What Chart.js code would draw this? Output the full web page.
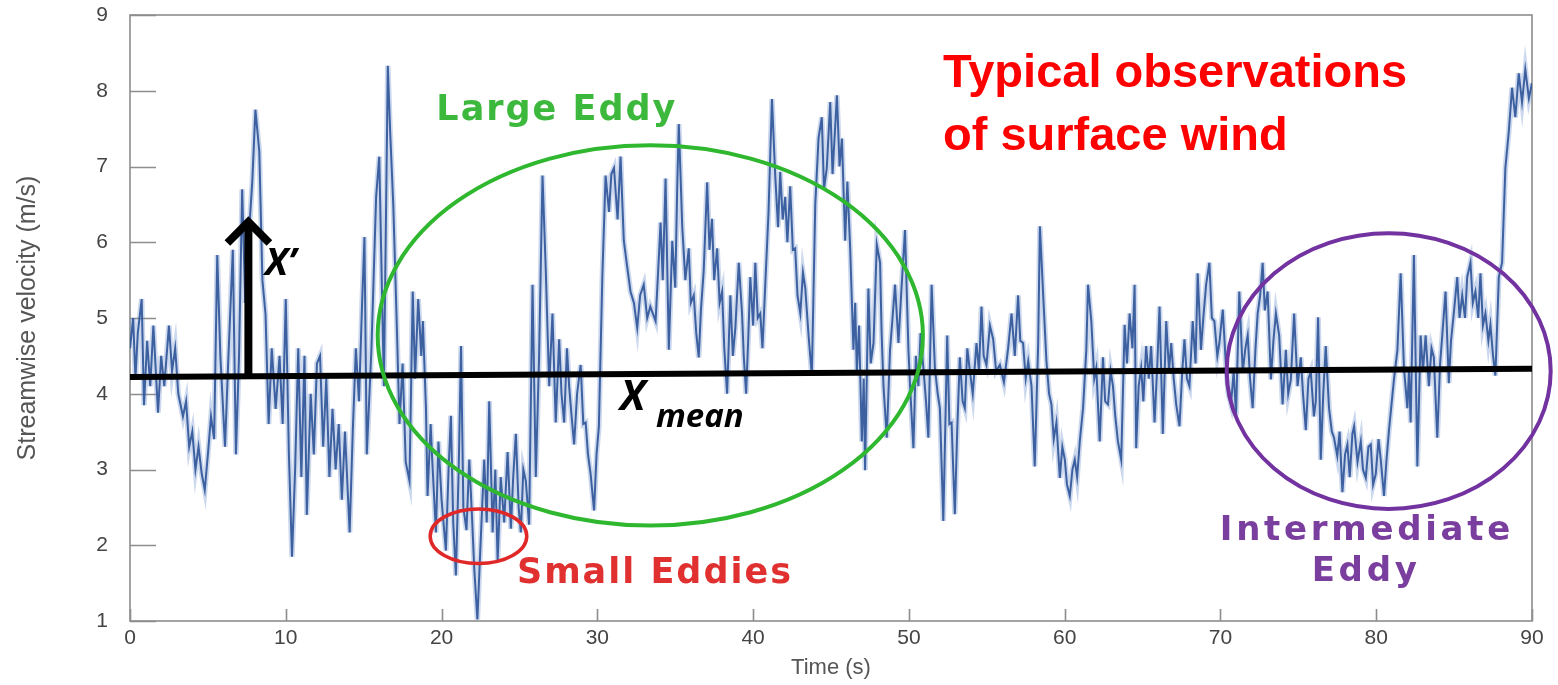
<!DOCTYPE html>
<html>
<head>
<meta charset="utf-8">
<title>Streamwise velocity</title>
<script src="https://cdn.jsdelivr.net/npm/chart.js@4.4.1/dist/chart.umd.min.js"></script>
<style>
  html, body { margin: 0; padding: 0; background: #fff; }
  #wrap { width: 1558px; height: 685px; }
</style>
</head>
<body>
<div id="wrap"><canvas id="chart" width="1558" height="685"></canvas></div>
<script>
// sonic anemometer record: time (s) and streamwise velocity (m/s)
var timeS = [
  0.0,0.2,0.35,0.5,0.75,0.9,1.1,1.3,1.5,1.8,2.0,2.2,2.5,2.7,2.9,3.1,3.4,3.6,3.8,4.0,4.2,4.4,4.6,4.8,5.0,5.2,5.4,5.6,5.8,6.1,6.3,6.6,6.8,7.0,7.2,7.4,7.6,7.85,8.05,8.3,8.5,8.7,8.9,9.1,9.35,9.6,9.8,10.0,10.2,10.4,10.6,10.8,11.0,
  11.2,11.35,11.6,11.8,12.0,12.2,12.4,12.6,12.8,13.0,13.2,13.4,13.6,13.8,14.1,14.3,14.5,14.7,14.9,15.05,15.2,15.5,15.8,16.0,16.3,16.55,16.7,16.9,17.1,17.3,17.5,17.7,17.94,18.15,18.3,18.5,18.7,18.8,19.0,19.1,19.3,19.4,19.64,19.8,20.0,20.28,20.45,20.6,20.75,20.92,21.1,21.25,21.4,21.6,21.78,21.95,22.1,22.3,
  22.5,22.74,22.9,23.06,23.28,23.45,23.6,23.8,24.02,24.24,24.45,24.6,24.77,24.95,25.09,25.25,25.41,25.62,25.84,26.05,26.26,26.48,26.69,26.91,27.12,27.33,27.55,27.7,27.87,28.05,28.19,28.35,28.51,28.7,28.93,29.1,29.25,29.4,29.57,29.79,29.95,30.1,30.32,30.53,30.75,30.9,31.07,31.3,31.49,31.7,31.9,32.13,32.35,32.56,32.75,32.98,33.2,33.4,
  33.74,33.9,34.06,34.2,34.38,34.59,34.81,35.0,35.13,35.23,35.45,35.65,35.87,36.0,36.19,36.35,36.51,36.65,36.83,37.05,37.2,37.36,37.5,37.69,37.85,38.01,38.15,38.33,38.54,38.7,38.86,39.08,39.29,39.4,39.55,39.7,39.82,40.0,40.14,40.3,40.46,40.6,40.78,40.99,41.21,41.42,41.6,41.74,41.9,42.06,42.2,42.38,42.55,42.7,42.85,43.03,43.2,43.35,43.56,43.77,43.99,44.2,44.41,44.55,44.73,
  44.95,45.1,45.38,45.55,45.7,45.91,46.05,46.23,46.44,46.55,46.66,46.8,46.98,47.1,47.19,47.4,47.55,47.73,47.94,48.15,48.25,48.37,48.58,48.79,48.95,49.11,49.33,49.5,49.75,49.97,50.1,50.29,50.45,50.61,50.75,50.93,51.1,51.25,51.46,51.67,51.85,51.99,52.21,52.46,52.6,52.74,52.95,53.1,53.27,53.45,53.59,53.75,53.92,54.1,54.34,54.5,54.66,54.8,54.98,55.2,55.41,55.6,55.84,
  56.1,56.37,56.59,56.8,57.01,57.15,57.33,57.5,57.66,57.87,58.08,58.3,58.41,58.62,58.83,59.0,59.15,59.3,59.47,59.69,59.85,60.01,60.15,60.33,60.5,60.65,60.8,60.97,61.18,61.39,61.5,61.71,61.9,62.03,62.25,62.46,62.6,62.78,62.95,63.1,63.25,63.42,63.63,63.85,64.0,64.17,64.35,64.49,64.59,64.75,64.91,65.05,65.23,65.4,65.55,65.77,65.95,66.09,66.3,66.52,66.7,66.84,67.0,67.16,
  67.37,67.55,67.69,67.85,68.01,68.22,68.4,68.54,68.75,68.9,69.08,69.29,69.45,69.61,69.8,69.93,70.15,70.36,70.5,70.68,70.85,71.0,71.21,71.43,71.6,71.75,71.9,72.07,72.25,72.39,72.55,72.71,72.85,73.03,73.24,73.4,73.56,73.77,73.99,74.2,74.35,74.52,74.73,74.95,75.16,75.3,75.48,75.65,75.8,76.0,76.12,76.27,76.44,76.6,76.76,76.97,77.15,77.29,77.5,77.65,77.83,78.0,78.15,78.3,78.47,
  78.58,78.8,79.01,79.15,79.33,79.5,79.65,79.8,79.97,80.15,80.29,80.5,80.65,80.82,81.0,81.14,81.36,81.57,81.78,82.0,82.1,82.21,82.42,82.64,82.85,83.0,83.17,83.38,83.55,83.7,83.92,84.1,84.24,84.45,84.66,84.8,84.98,85.2,85.35,85.52,85.7,85.84,86.05,86.2,86.37,86.55,86.69,86.85,87.01,87.2,87.33,87.5,87.65,87.87,88.08,88.29,88.51,88.72,88.93,89.15,89.36,89.57,89.8,90.0
];
var velocity = [
  4.6,5.0,4.2,4.8,5.25,3.85,4.7,4.1,4.9,3.75,4.5,4.1,4.9,4.3,4.6,4.0,3.7,3.9,3.3,3.5,3.0,3.3,2.95,2.73,3.2,3.7,3.4,5.83,4.5,3.3,4.4,5.9,3.2,4.5,6.7,5.2,6.0,6.8,7.75,7.2,5.5,5.05,3.6,4.6,3.8,4.5,3.6,5.25,3.2,1.85,3.0,4.6,2.9,
  4.5,2.4,4.0,3.2,4.4,4.5,3.3,4.2,2.9,3.8,3.0,3.6,2.6,3.5,2.17,3.5,4.6,3.9,5.2,6.07,3.2,4.6,6.6,7.13,4.1,8.33,7.46,6.5,5.1,3.6,4.4,3.1,2.85,5.35,4.2,5.25,4.5,4.96,3.8,2.65,3.6,3.13,2.17,3.37,2.6,1.93,3.0,3.71,2.3,1.6,3.0,4.63,2.5,2.2,3.13,2.4,1.69,1.02,
  2.0,3.13,2.3,3.9,2.17,3.0,1.79,2.9,2.3,3.23,2.22,2.9,3.47,2.5,2.17,3.0,2.85,2.27,5.44,2.9,4.48,6.88,5.63,4.1,5.06,3.62,4.72,4.0,3.62,4.6,4.1,3.7,3.33,4.0,4.38,3.6,3.62,3.2,2.94,2.46,3.2,3.57,5.54,6.88,6.4,6.9,6.98,6.3,7.13,6.02,5.7,5.35,5.2,4.87,5.3,5.44,5.0,5.15,
  4.96,5.6,6.26,5.5,6.84,4.58,6.02,5.4,6.74,7.56,6.21,5.5,5.92,5.2,5.3,4.8,4.48,5.1,5.63,6.79,5.9,6.31,5.5,5.92,5.2,5.35,4.6,4.0,5.3,4.5,4.87,5.73,5.06,4.5,4.0,4.8,5.54,4.9,5.73,5.0,5.06,4.6,5.44,6.4,7.89,6.88,6.2,6.93,6.3,6.6,6.0,6.74,5.9,5.92,5.3,5.06,5.6,5.39,4.77,4.24,6.5,7.37,7.65,6.7,6.98,
  7.85,6.9,7.94,7.0,7.37,6.02,6.8,5.92,4.58,5.2,4.29,4.9,3.37,4.2,2.99,5.39,4.4,4.67,5.97,5.73,4.8,4.1,3.42,4.58,5.0,5.44,4.67,5.3,6.16,4.58,4.0,3.28,4.5,4.1,4.8,4.34,3.9,3.42,5.44,4.34,4.0,3.81,2.32,4.77,3.6,3.62,2.41,3.5,4.48,3.9,3.81,4.6,4.29,4.0,4.67,4.3,5.15,4.5,4.38,4.9,4.72,4.3,4.38,
  4.15,4.6,5.06,4.5,5.3,4.7,4.67,4.2,4.43,4.1,3.04,4.67,6.21,5.3,4.43,4.0,3.86,3.4,3.62,2.89,3.3,3.13,2.8,2.65,3.0,3.13,2.9,3.37,3.81,4.58,5.44,4.96,4.2,4.34,3.37,4.48,3.9,3.86,4.3,4.1,3.7,3.37,3.13,4.91,4.4,5.06,4.6,5.44,3.28,4.1,4.34,3.9,4.63,4.2,4.63,3.62,4.4,5.15,3.47,4.96,4.3,4.67,4.2,3.86,
  3.57,4.3,4.72,4.2,4.1,4.96,4.4,5.59,4.58,5.0,5.44,5.73,5.0,4.96,4.5,4.67,5.11,4.34,4.0,3.86,4.3,3.71,5.35,4.29,4.6,4.77,4.2,3.81,4.6,5.06,5.3,5.73,5.1,5.35,4.19,4.7,5.06,4.77,3.86,4.58,4.0,4.19,5.06,4.1,4.48,4.0,3.52,4.2,4.29,3.7,3.9,5.01,3.13,4.0,4.63,3.81,3.5,3.42,3.18,3.5,2.7,3.2,3.33,2.9,3.47,
  3.57,3.1,3.37,3.0,2.89,3.3,3.33,2.8,2.94,3.4,3.13,2.65,3.1,3.52,3.9,4.19,4.58,5.59,4.34,3.81,4.3,3.62,5.83,3.04,4.77,4.3,4.77,4.1,4.6,4.48,3.42,4.4,4.77,5.35,4.14,4.7,5.06,5.54,5.0,5.3,5.0,5.54,5.73,5.2,5.35,5.0,5.59,4.9,5.06,4.7,4.91,4.5,4.24,5.54,5.73,6.98,7.46,8.04,7.65,8.23,7.85,8.28,7.9,8.1
];
// mean level over the record (ends of the fitted line)
var meanTime = [0, 90];
var meanVel = [4.22, 4.33];
var xTicks = [0, 10, 20, 30, 40, 50, 60, 70, 80, 90];
var yTicks = [1, 2, 3, 4, 5, 6, 7, 8, 9];

var seriesPts = timeS.map(function(t, i) { return { x: t, y: velocity[i] }; });
var meanPts = meanTime.map(function(t, i) { return { x: t, y: meanVel[i] }; });

function ring(ctx, xs, ys, t, v, dt, dv, color, w) {
  var cx = xs.getPixelForValue(t), cy = ys.getPixelForValue(v);
  var rx = xs.getPixelForValue(t + dt) - cx;
  var ry = cy - ys.getPixelForValue(v + dv);
  ctx.beginPath();
  ctx.ellipse(cx, cy, rx, ry, 0, 0, Math.PI * 2);
  ctx.strokeStyle = color;
  ctx.lineWidth = w;
  ctx.stroke();
}

function word(ctx, text, px, py, font, color, spacing, align) {
  ctx.font = font;
  ctx.fillStyle = color;
  ctx.textAlign = align || 'center';
  ctx.textBaseline = 'alphabetic';
  if ('letterSpacing' in ctx) ctx.letterSpacing = (spacing || 0) + 'px';
  ctx.fillText(text, px, py);
  if ('letterSpacing' in ctx) ctx.letterSpacing = '0px';
}

// frame, inward ticks and the hand-drawn style annotations
var overlay = {
  id: 'overlay',
  beforeDatasetsDraw: function(chart) {
    var ctx = chart.ctx, a = chart.chartArea, xs = chart.scales.x, ys = chart.scales.y;
    ctx.save();
    ctx.strokeStyle = '#8d8d8d';
    ctx.lineWidth = 1.6;
    ctx.strokeRect(a.left, a.top, a.right - a.left, a.bottom - a.top);
    ctx.beginPath();
    yTicks.forEach(function(v) {
      var py = Math.round(ys.getPixelForValue(v)) + 0.5;
      ctx.moveTo(a.left, py); ctx.lineTo(a.left + 26, py);
    });
    xTicks.forEach(function(v) {
      var px = Math.round(xs.getPixelForValue(v)) + 0.5;
      ctx.moveTo(px, a.bottom); ctx.lineTo(px, a.bottom - 12);
    });
    ctx.stroke();
    ctx.restore();
  },
  afterDatasetsDraw: function(chart) {
    var ctx = chart.ctx, xs = chart.scales.x, ys = chart.scales.y;
    ctx.save();

    // x' arrow rising from the mean line
    var ax = xs.getPixelForValue(7.6);
    var base = ys.getPixelForValue(4.26), tip = ys.getPixelForValue(6.32);
    ctx.strokeStyle = '#000';
    ctx.lineWidth = 8;
    ctx.beginPath(); ctx.moveTo(ax, base); ctx.lineTo(ax, tip + 4); ctx.stroke();
    ctx.lineJoin = 'miter';
    ctx.beginPath(); ctx.moveTo(ax - 21, tip + 25); ctx.lineTo(ax, tip + 4); ctx.lineTo(ax + 21, tip + 25); ctx.stroke();

    // eddy outlines
    ring(ctx, xs, ys, 33.4, 4.77, 17.5, 2.51, '#2fb82f', 4);
    ring(ctx, xs, ys, 22.37, 2.12, 3.1, 0.36, '#e02828', 3.5);
    ring(ctx, xs, ys, 80.8, 4.30, 10.4, 1.82, '#7232a0', 4);

    word(ctx, 'Large Eddy', xs.getPixelForValue(27.4), ys.getPixelForValue(7.62), 'bold 35px "DejaVu Sans"', '#3cb93c', 2);
    word(ctx, 'Small Eddies', xs.getPixelForValue(33.7), ys.getPixelForValue(1.5), 'bold 35px "DejaVu Sans"', '#e03030', 2);
    word(ctx, 'Intermediate', xs.getPixelForValue(79.4), ys.getPixelForValue(2.07), 'bold 34px "DejaVu Sans"', '#7a3e9e', 3.7);
    word(ctx, 'Eddy', xs.getPixelForValue(79.35), ys.getPixelForValue(1.53), 'bold 34px "DejaVu Sans"', '#7a3e9e', 3.7);

    word(ctx, 'X\u2019', xs.getPixelForValue(8.67), ys.getPixelForValue(5.57), 'italic bold 38px "Open Sans"', '#000', 0, 'left');
    var mx = xs.getPixelForValue(31.45), my = ys.getPixelForValue(3.78);
    word(ctx, 'X', mx, my, 'italic bold 42px "Open Sans"', '#000', 0, 'left');
    word(ctx, 'mean', mx + 36, my + 17, 'italic bold 33px "Open Sans"', '#000', 0, 'left');

    word(ctx, 'Typical observations', 943, 87, 'bold 47px "Liberation Sans"', '#ff0000', 0, 'left');
    word(ctx, 'of surface wind', 943, 150, 'bold 47px "Liberation Sans"', '#ff0000', 0, 'left');
    ctx.restore();
  }
};

var tickFont = { family: '"Liberation Sans", Arial, sans-serif', size: 21 };

new Chart(document.getElementById('chart').getContext('2d'), {
  type: 'line',
  data: {
    datasets: [
      { label: 'mean', data: meanPts, borderColor: '#000', borderWidth: 6, order: 0 },
      { label: 'velocity', data: seriesPts, borderColor: 'rgba(46,84,152,0.9)', borderWidth: 2, order: 1 },
      // soft band under the trace, same samples
      { label: 'velocity band', data: seriesPts, borderColor: 'rgba(95,135,200,0.32)', borderWidth: 5.5, order: 2 }
    ]
  },
  options: {
    responsive: false,
    animation: false,
    devicePixelRatio: 1,
    layout: { padding: { top: 15, right: 26, left: 0, bottom: 0 } },
    elements: { point: { radius: 0 }, line: { tension: 0 } },
    plugins: { legend: { display: false }, tooltip: { enabled: false } },
    scales: {
      x: {
        type: 'linear', min: 0, max: 90,
        afterBuildTicks: function(s) { s.ticks = xTicks.map(function(v) { return { value: v }; }); },
        afterFit: function(s) { s.height = 64; },
        grid: { display: false, drawTicks: false },
        border: { display: false },
        ticks: { color: '#444', font: tickFont, padding: 5 },
        title: { display: true, text: 'Time (s)', color: '#555',
                 font: { family: '"Liberation Sans", Arial, sans-serif', size: 22 },
                 padding: { top: 0, bottom: 4 } }
      },
      y: {
        min: 1, max: 9,
        afterBuildTicks: function(s) { s.ticks = yTicks.map(function(v) { return { value: v }; }); },
        afterFit: function(s) { s.width = 130; },
        grid: { display: false, drawTicks: true, tickLength: 22 },
        border: { display: false },
        ticks: { color: '#444', font: tickFont, padding: 0 },
        title: { display: true, text: 'Streamwise velocity (m/s)', color: '#555',
                 font: { family: '"Liberation Sans", Arial, sans-serif', size: 25 },
                 padding: { top: 13, bottom: 0 } }
      }
    }
  },
  plugins: [overlay]
});
</script>
</body>
</html>
